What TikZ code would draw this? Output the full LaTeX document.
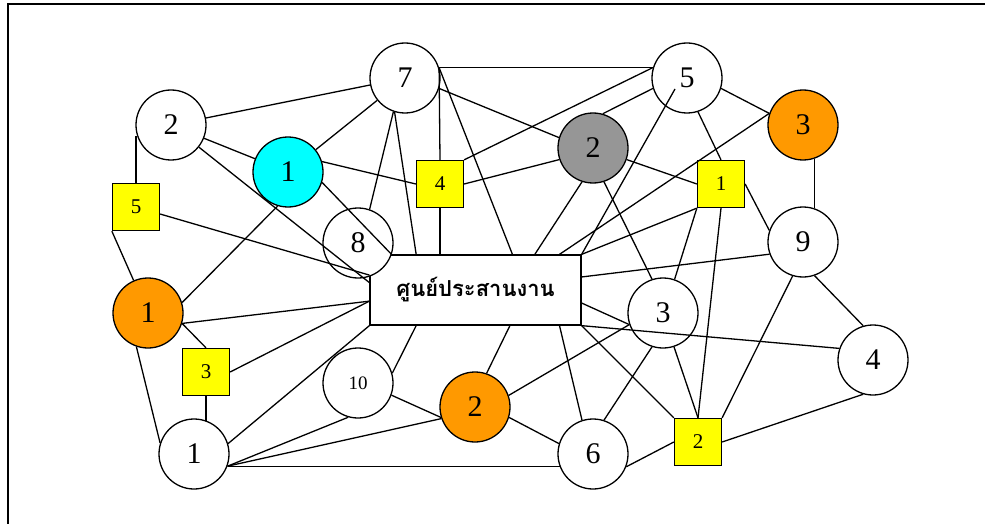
\documentclass[tikz,border=0pt]{standalone}
\usepackage{fontspec}
\setmainfont{Liberation Serif}
\newfontfamily\thaifont[Script=Thai]{Loma}
\definecolor{orng}{RGB}{255,153,0}
\definecolor{gry}{RGB}{150,150,150}
\definecolor{aqua}{RGB}{0,255,255}
\definecolor{yel}{RGB}{255,255,0}

\begin{document}
\begin{tikzpicture}[x=1pt,y=-1pt,line width=1.3pt,
	circ/.style={circle,draw,fill=white,minimum size=70pt,inner sep=0pt,font=\fontsize{30}{30}\selectfont},
	sq/.style={rectangle,draw,fill=yel,minimum size=47pt,inner sep=0pt,font=\fontsize{21}{21}\selectfont},
	hubbox/.style={rectangle,draw,fill=white,minimum width=211pt,minimum height=70pt,inner sep=0pt,font=\thaifont\bfseries\fontsize{22}{22}\selectfont}]
			\useasboundingbox (0,0) rectangle (985,524);
			\draw (8,524) -- (8,4) -- (985,4);

			% centre
			\node[hubbox] (hub) at (475.5,290) {ศูนย์ประสานงาน};

			% circles
			\node[circ] (n7) at (405,78) {7};
			\node[circ] (n2a) at (171,125) {2};
			\node[circ,fill=aqua] (n1c) at (288,172) {1};
			\node[circ] (n8) at (358,243) {8};
			\node[circ] (n5) at (687,78) {5};
			\node[circ,fill=orng] (n3o) at (803,125) {3};
			\node[circ,fill=gry] (n2g) at (593,148) {2};
			\node[circ] (n9) at (803,242) {9};
			\node[circ,fill=orng] (n1o) at (148,313) {1};
			\node[circ] (n1w) at (194,454) {1};
			\node[circ,font=\fontsize{19}{19}\selectfont] (n10) at (358,383) {10};
			\node[circ,fill=orng] (n2o) at (475,407) {2};
			\node[circ] (n3w) at (663,313) {3};
			\node[circ] (n4w) at (873,360) {4};
			\node[circ] (n6) at (593,454) {6};

			% squares
			\node[sq] (b5) at (136,207) {5};
			\node[sq] (b4) at (440,184) {4};
			\node[sq] (b1) at (721,184) {1};
			\node[sq] (b3) at (206,372) {3};
			\node[sq] (b2) at (698,442) {2};

			% upper left
			\draw (n2a) -- (n7);
			\draw (n2a) -- (n1c);
			\draw (n2a) -- (hub.176);
			\draw (b5) -- (hub.172);
			\draw (b5.north) -- (b5.north |- n2a.198);
			\draw (b5.south west) -- (n1o);
			\draw (n1c) -- (n7);
			\draw (n1c.17) -- (b4.west);
			\draw (n1c.343) -- (hub.157);
			\draw (n1c.253) -- (n1o.17);

			% from 7
			\draw (n7.251) -- (n8.71);
			\draw (n7.253) -- (hub.149);
			\draw (n7.17) -- (b4.north);
			\draw (b4.south) -- (b4.south |- hub.north);
			\draw (n7.17) -- (n5.163);
			\draw (n7.17) -- (hub.44);
			\draw (n7.343) -- (n2g.163);

			% from 5
			\draw (n5.163) -- (b4.north east);
			\draw (n5.197) -- (n2g.74);
			\draw ([shift={(-12,11)}]n5.center) -- (hub.north east);
			\draw (n5.288) -- (b1.north);
			\draw (n5.343) -- (n3o.161);

			% grey 2 and square 1
			\draw (b4.east) -- (n2g.199);
			\draw (n2g.341) -- (b1.west);
			\draw (n2g.252) -- (hub.31);
			\draw (n2g.288) -- (n3w.108);
			\draw (b1.south west) -- (n3w.71);
			\draw (b1.south) -- (b2.north);
			\draw (b1.east) -- (n9.161);
			\draw (b1.south west) -- (hub.north east);

			% right side
			\draw (n3o.289) -- (n3o.289 |- n9.71);
			\draw (n3o.161) -- (hub.23);
			\draw (n9.200) -- (hub.7);
			\draw (n9.289) -- (n4w.106);
			\draw (n9.253) -- (b2.north east);
			\draw (hub.353) -- (n3w.199);
			\draw (hub.south east) -- (n4w.161);
			\draw (hub.south east) -- (b2.north west);

			% lower part
			\draw (hub.337) -- (n6.108);
			\draw (hub.314) -- (n2o.71);
			\draw (hub.211) -- (n10.16);
			\draw (n3w.199) -- (n2o.19);
			\draw (n3w.252) -- (n6.72);
			\draw (n3w.288) -- (b2.north);
			\draw (n4w.254) -- (b2.east);
			\draw (b2.west) -- (n6.339);
			\draw (n2o.343) -- (n6.163);
			\draw (n1w.340) -- (n6.200);
			\draw (n1w.340) -- (n2o.199);
			\draw (n1w.340) -- (n10.254);
			\draw (n1w.17) -- (hub.south west);
			\draw (b3.south) -- (b3.south |- n1w.68);
			\draw (n1w.162) -- (n1o.251);
			\draw (n1o.343) -- (hub.186);
			\draw (n1o.343) -- (b3.north);
			\draw (b3.east) -- (hub.186);
			\draw (n10.340) -- (n2o.197);
\end{tikzpicture}
\end{document}
